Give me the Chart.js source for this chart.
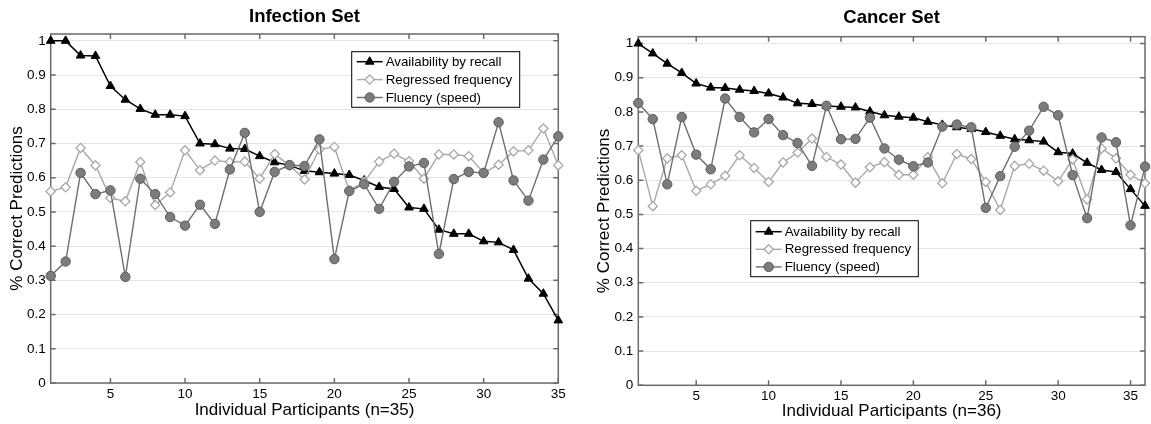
<!DOCTYPE html>
<html><head><meta charset="utf-8">
<script src="https://cdn.jsdelivr.net/npm/chart.js"></script>
<style>
html,body{margin:0;padding:0;background:#fff;}
#wrap{position:relative;width:1151px;height:424px;background:#fff;overflow:hidden;}
canvas{position:absolute;top:0;}
</style></head><body>
<div id="wrap">
<canvas id="c1" width="575" height="424" style="left:0px"></canvas>
<canvas id="c2" width="576" height="424" style="left:575px"></canvas>
</div>
<script>
// ---------- data ----------
const seriesNames = ['Availability by recall', 'Regressed frequency', 'Fluency (speed)'];

const infectionParticipants = [1,2,3,4,5,6,7,8,9,10,11,12,13,14,15,16,17,18,19,20,21,22,23,24,25,26,27,28,29,30,31,32,33,34,35];
const infectionAvailability = [1.000,1.000,0.957,0.956,0.868,0.828,0.801,0.784,0.784,0.780,0.700,0.698,0.685,0.684,0.663,0.645,0.636,0.620,0.616,0.612,0.608,0.592,0.573,0.567,0.513,0.509,0.448,0.436,0.436,0.414,0.411,0.389,0.305,0.261,0.183];
const infectionRegressed   = [0.560,0.572,0.687,0.636,0.541,0.531,0.646,0.520,0.557,0.680,0.622,0.650,0.646,0.647,0.597,0.669,0.636,0.595,0.683,0.690,0.563,0.588,0.647,0.670,0.648,0.597,0.668,0.668,0.663,0.614,0.638,0.677,0.680,0.744,0.636];
const infectionFluency     = [0.313,0.355,0.614,0.552,0.563,0.310,0.597,0.552,0.485,0.460,0.521,0.465,0.624,0.731,0.500,0.617,0.637,0.634,0.712,0.362,0.561,0.581,0.509,0.588,0.633,0.643,0.377,0.596,0.617,0.614,0.762,0.592,0.533,0.653,0.721];

const cancerParticipants = [1,2,3,4,5,6,7,8,9,10,11,12,13,14,15,16,17,18,19,20,21,22,23,24,25,26,27,28,29,30,31,32,33,34,35,36];
const cancerAvailability = [1.000,0.971,0.941,0.914,0.883,0.871,0.870,0.865,0.861,0.854,0.842,0.825,0.823,0.817,0.815,0.813,0.801,0.790,0.786,0.783,0.771,0.762,0.755,0.750,0.741,0.730,0.720,0.717,0.713,0.682,0.678,0.651,0.630,0.624,0.574,0.525];
const cancerRegressed   = [0.688,0.524,0.664,0.673,0.569,0.588,0.613,0.673,0.636,0.595,0.652,0.681,0.722,0.668,0.646,0.593,0.638,0.653,0.616,0.616,0.667,0.591,0.677,0.662,0.595,0.513,0.642,0.648,0.628,0.597,0.661,0.544,0.693,0.664,0.616,0.591];
const cancerFluency     = [0.826,0.779,0.588,0.785,0.675,0.632,0.839,0.785,0.740,0.779,0.732,0.709,0.642,0.818,0.720,0.721,0.783,0.693,0.660,0.641,0.652,0.757,0.763,0.755,0.519,0.612,0.698,0.745,0.815,0.790,0.615,0.489,0.725,0.711,0.468,0.640];

const xTickValues = [5,10,15,20,25,30,35];
const yTickValues = [0,0.1,0.2,0.3,0.4,0.5,0.6,0.7,0.8,0.9,1];
const yTickLabels = ['0','0.1','0.2','0.3','0.4','0.5','0.6','0.7','0.8','0.9','1'];

// ---------- helpers ----------
const FONT = "'Liberation Sans', Arial, Helvetica, sans-serif";

function drawMarker(ctx, style, r, x, y) {
  ctx.beginPath();
  if (style === 'triangle') {
    ctx.moveTo(x, y - r);
    ctx.lineTo(x + 0.866 * r, y + 0.5 * r);
    ctx.lineTo(x - 0.866 * r, y + 0.5 * r);
    ctx.closePath();
  } else if (style === 'rectRot') {
    ctx.moveTo(x, y - r); ctx.lineTo(x + r, y); ctx.lineTo(x, y + r); ctx.lineTo(x - r, y);
    ctx.closePath();
  } else {
    ctx.arc(x, y, r, 0, Math.PI * 2);
  }
  ctx.fill();
  ctx.stroke();
}

const framePlugin = {
  id: 'frameAndLegend',
  beforeDatasetsDraw(chart, args, o) {
    const ctx = chart.ctx, a = chart.chartArea, x = chart.scales.x, y = chart.scales.y;
    ctx.save();
    ctx.strokeStyle = '#6a6a6a';
    ctx.lineWidth = 1.5;
    ctx.beginPath();
    x.ticks.forEach(t => {
      const px = x.getPixelForValue(t.value);
      ctx.moveTo(px, a.bottom); ctx.lineTo(px, a.bottom - 5);
      ctx.moveTo(px, a.top); ctx.lineTo(px, a.top + 5);
    });
    y.ticks.forEach(t => {
      const py = y.getPixelForValue(t.value);
      ctx.moveTo(a.left, py); ctx.lineTo(a.left + 5, py);
      ctx.moveTo(a.right, py); ctx.lineTo(a.right - 5, py);
    });
    ctx.stroke();
    ctx.strokeRect(a.left, a.top, a.right - a.left, a.bottom - a.top);
    ctx.restore();
  },
  afterDatasetsDraw(chart, args, o) {
    const ctx = chart.ctx, a = chart.chartArea, L = o.legend;
    const bx = a.left + L.dx, by = a.top + L.dy;
    ctx.save();
    ctx.fillStyle = '#fff';
    ctx.fillRect(bx, by, L.w, L.h);
    ctx.strokeStyle = '#000';
    ctx.lineWidth = 1;
    ctx.strokeRect(bx, by, L.w, L.h);
    chart.data.datasets.forEach((ds, i) => {
      const cy = by + L.rowTop + i * L.rowGap;
      ctx.strokeStyle = ds.borderColor;
      ctx.lineWidth = ds.borderWidth;
      ctx.beginPath();
      ctx.moveTo(bx + 5, cy); ctx.lineTo(bx + 31, cy);
      ctx.stroke();
      ctx.fillStyle = ds.pointBackgroundColor;
      ctx.strokeStyle = ds.pointBorderColor;
      ctx.lineWidth = ds.pointBorderWidth;
      drawMarker(ctx, ds.pointStyle, ds.pointRadius, bx + 18, cy);
      ctx.fillStyle = '#000';
      ctx.font = '13.3px ' + FONT;
      ctx.textBaseline = 'middle';
      ctx.textAlign = 'left';
      ctx.fillText(ds.label, bx + 34, cy + 0.5);
    });
    ctx.restore();
  }
};

function pts(xs, ys) { return ys.map((v, i) => ({x: xs[i], y: v})); }

function makeDatasets(xs, avail, regr, flu) {
  return [
    {label: seriesNames[0], data: pts(xs, avail), order: 3, borderColor: '#000', borderWidth: 1.5,
     pointStyle: 'triangle', pointRadius: 5, pointBackgroundColor: '#000', pointBorderColor: '#000', pointBorderWidth: 1, clip: false},
    {label: seriesNames[1], data: pts(xs, regr), order: 2, borderColor: '#a8a8a8', borderWidth: 1.4,
     pointStyle: 'rectRot', pointRadius: 4.6, pointBackgroundColor: '#fff', pointBorderColor: '#a8a8a8', pointBorderWidth: 1.3, clip: false},
    {label: seriesNames[2], data: pts(xs, flu), order: 1, borderColor: '#6e6e6e', borderWidth: 1.4,
     pointStyle: 'circle', pointRadius: 4.7, pointBackgroundColor: '#7c7c7c', pointBorderColor: '#5c5c5c', pointBorderWidth: 1, clip: false}
  ];
}

function makeChart(id, cfg) {
  return new Chart(document.getElementById(id), {
    type: 'line',
    data: {datasets: makeDatasets(cfg.xs, cfg.avail, cfg.regr, cfg.flu)},
    options: {
      responsive: false, animation: false, devicePixelRatio: 1,
      layout: {padding: {left: 0, top: 0, right: cfg.padRight, bottom: 0}},
      elements: {line: {tension: 0}},
      plugins: {
        legend: {display: false},
        tooltip: {enabled: false},
        title: {display: true, text: cfg.title, fullSize: false, color: '#000',
          font: {family: FONT, size: 18.5, weight: 'bold'}, padding: {top: cfg.titleTop, bottom: cfg.titleBottom}},
        frameAndLegend: {legend: cfg.legend}
      },
      scales: {
        x: {
          type: 'linear', min: 1, max: cfg.xMax,
          afterBuildTicks: s => { s.ticks = xTickValues.map(v => ({value: v})); },
          afterFit: s => { s.height = cfg.xHeight; },
          grid: {display: false, drawTicks: false},
          border: {display: false},
          ticks: {padding: 3, color: '#000', font: {family: FONT, size: 13.5}, maxRotation: 0, autoSkip: false},
          title: {display: true, text: cfg.xTitle, color: '#000', font: {family: FONT, size: 17}, padding: {top: 0, bottom: cfg.xTitlePad}}
        },
        y: {
          type: 'linear', min: 0, max: 1.02,
          afterBuildTicks: s => { s.ticks = yTickValues.map(v => ({value: v})); },
          afterFit: s => { s.width = cfg.yWidth; },
          grid: {color: '#e4e4e4', lineWidth: 1, drawTicks: false},
          border: {display: false},
          ticks: {padding: 5, color: '#000', font: {family: FONT, size: 13.5}, autoSkip: false,
            callback: (v, i) => yTickLabels[i]},
          title: {display: true, text: '% Correct Predictions', color: '#000', font: {family: FONT, size: 17}, padding: {top: cfg.yTitlePad, bottom: 0}}
        }
      }
    },
    plugins: [framePlugin]
  });
}

makeChart('c1', {
  xs: infectionParticipants, avail: infectionAvailability, regr: infectionRegressed, flu: infectionFluency,
  title: 'Infection Set', xTitle: 'Individual Participants (n=35)', xMax: 35,
  padRight: 16.7, titleTop: 5.9, titleBottom: 5.9, xHeight: 41, xTitlePad: 3.8, yWidth: 50.7, yTitlePad: 6.8,
  legend: {dx: 301, dy: 17.7, w: 168, h: 55.6, rowTop: 10, rowGap: 17.9}
});

makeChart('c2', {
  xs: cancerParticipants, avail: cancerAvailability, regr: cancerRegressed, flu: cancerFluency,
  title: 'Cancer Set', xTitle: 'Individual Participants (n=36)', xMax: 36,
  padRight: 5, titleTop: 7.2, titleBottom: 7.3, xHeight: 38.7, xTitlePad: 2.3, yWidth: 63.3, yTitlePad: 18.8,
  legend: {dx: 112.4, dy: 184, w: 167.6, h: 56, rowTop: 11, rowGap: 17.6}
});
</script>
</body></html>
